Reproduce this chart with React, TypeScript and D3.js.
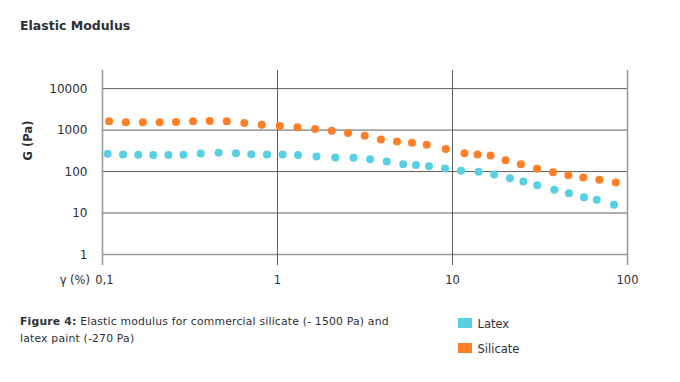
import React from "react";
import * as d3 from "d3";

const latexX = [0.107, 0.131, 0.16, 0.195, 0.238, 0.29, 0.364, 0.461, 0.579, 0.708, 0.871, 1.07, 1.31, 1.67, 2.14, 2.72, 3.38, 4.21, 5.23, 6.18, 7.34, 9.06, 11.2, 14.1, 17.3, 21.3, 25.4, 30.5, 38.2, 46.3, 56.4, 66.7, 83.7];
const latexG = [269, 259, 255, 249, 249, 255, 274, 284, 278, 263, 259, 259, 249, 232, 219, 215, 199, 175, 151, 143, 135, 119, 104, 98.9, 85.1, 69.3, 57.7, 46.9, 36.3, 30.1, 24.1, 20.8, 15.8];

const silicateX = [0.109, 0.136, 0.17, 0.212, 0.263, 0.329, 0.41, 0.513, 0.646, 0.813, 1.03, 1.3, 1.64, 2.04, 2.53, 3.15, 3.9, 4.82, 5.87, 7.12, 9.15, 11.7, 13.9, 16.5, 20.1, 24.6, 30.4, 37.5, 45.9, 55.9, 69.0, 85.7];
const silicateG = [1622, 1535, 1535, 1535, 1560, 1622, 1650, 1622, 1476, 1350, 1250, 1162, 1057, 968, 847, 733, 596, 533, 496, 444, 348, 278, 259, 245, 188, 151, 117, 96.8, 81.9, 72.0, 63.4, 54.6];

const xTicks = [0.1, 1, 10, 100];
const xTickLabels = ["0,1", "1", "10", "100"];
const yTicks = [1, 10, 100, 1000, 10000];
const yTickLabels = ["1", "10", "100", "1000", "10000"];

const seriesNames = ["Latex", "Silicate"];
const seriesColors = ["#56D0E2", "#FF7F27"];

const textColor = "#2d2f36";
const font = "'DejaVu Sans', sans-serif";

export default function App() {
  const width = 680;
  const height = 382;
  const x = d3.scaleLog().domain([0.1, 100]).range([102.5, 627.5]);
  const y = d3.scaleLog().domain([1, 10000]).range([254.5, 88.6]);

  const series = [
    { name: seriesNames[0], color: seriesColors[0], pts: latexX.map((v, i) => [v, latexG[i]]) },
    { name: seriesNames[1], color: seriesColors[1], pts: silicateX.map((v, i) => [v, silicateG[i]]) },
  ];

  const [x0, x1] = x.range();

  return (
    <svg
      width={width}
      height={height}
      style={{ position: "absolute", left: 0, top: 0, background: "#fff" }}
    >
      <text x={20} y={30} fontFamily={font} fontWeight={700} fontSize={12.5} fill={textColor}>
        Elastic Modulus
      </text>

      {/* horizontal gridlines */}
      {yTicks.map((t, i) => (
        <line
          key={"h" + i}
          x1={x0}
          x2={x1}
          y1={y(t)}
          y2={y(t)}
          stroke={i === 0 ? "#9a9a9a" : "#5e5e5e"}
          strokeWidth={i === 0 ? 1.6 : 1}
        />
      ))}
      {/* vertical gridlines */}
      {xTicks.map((t, i) => (
        <line
          key={"v" + i}
          x1={x(t)}
          x2={x(t)}
          y1={70}
          y2={265}
          stroke={i === 0 || i === xTicks.length - 1 ? "#9a9a9a" : "#5e5e5e"}
          strokeWidth={i === 0 || i === xTicks.length - 1 ? 1.6 : 1}
        />
      ))}

      {/* y tick labels */}
      {yTicks.map((t, i) => (
        <text
          key={"yl" + i}
          x={87.5}
          y={y(t)}
          dy="0.36em"
          textAnchor="end"
          fontFamily={font}
          fontSize={12}
          fill={textColor}
        >
          {yTickLabels[i]}
        </text>
      ))}
      {/* x tick labels */}
      {xTicks.map((t, i) => (
        <text
          key={"xl" + i}
          x={x(t) + (i === 0 ? 2 : 0)}
          y={284}
          textAnchor="middle"
          fontFamily={font}
          fontSize={11.5}
          fill={textColor}
        >
          {xTickLabels[i]}
        </text>
      ))}
      <text x={90} y={284} textAnchor="end" fontFamily={font} fontSize={11.5} fill={textColor}>
        γ (%)
      </text>
      <text
        transform="translate(32,140.5) rotate(-90)"
        textAnchor="middle"
        fontFamily={font}
        fontWeight={600}
        fontSize={11.5}
        fill={textColor}
      >
        G (Pa)
      </text>

      {/* points */}
      {series.map((s) => (
        <g key={s.name}>
          {s.pts.map((p, j) => (
            <circle key={j} cx={x(p[0])} cy={y(p[1])} r={4} fill={s.color} />
          ))}
        </g>
      ))}

      {/* caption */}
      <text x={20} y={325} fontFamily={font} fontSize={10.8} letterSpacing={0.2} fill={textColor}>
        <tspan fontWeight={700}>Figure 4:</tspan>
        <tspan> Elastic modulus for commercial silicate (- 1500 Pa) and</tspan>
      </text>
      <text x={20} y={341.5} fontFamily={font} fontSize={10.8} letterSpacing={0.2} fill={textColor}>
        latex paint (-270 Pa)
      </text>

      {/* legend */}
      {series.map((s, i) => (
        <g key={"lg" + i} transform={`translate(458,${318 + i * 25})`}>
          <rect x={0} y={0} width={14} height={10} fill={s.color} />
          <text x={19.5} y={9.5} fontFamily={font} fontSize={11.5} fill={textColor}>
            {s.name}
          </text>
        </g>
      ))}
    </svg>
  );
}
